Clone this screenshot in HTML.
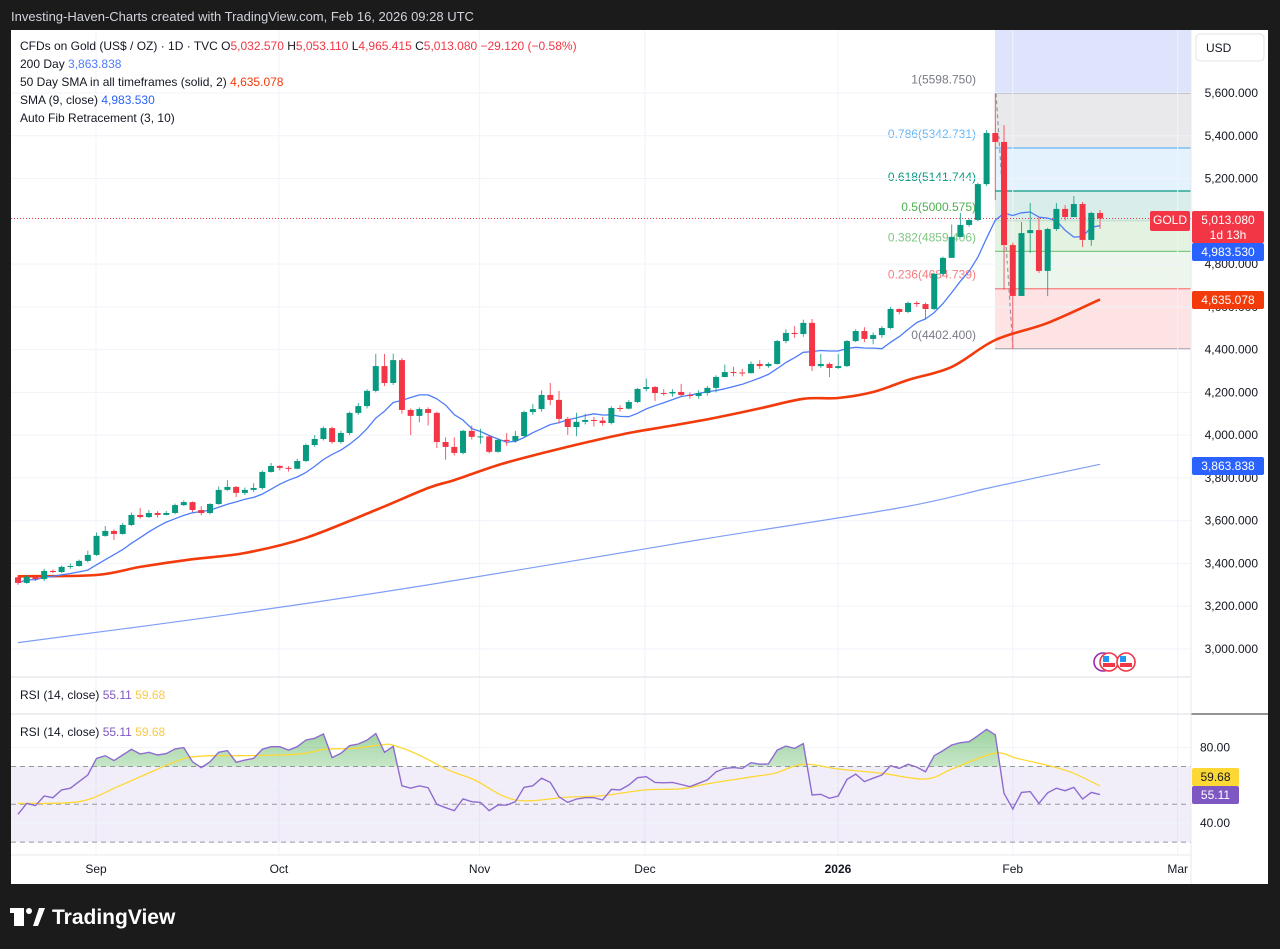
<!DOCTYPE html>
<html><head><meta charset="utf-8"><style>
html,body{margin:0;padding:0;background:#1b1b1b;width:1280px;height:949px;overflow:hidden}
svg{display:block;font-family:"Liberation Sans",sans-serif}
</style></head><body>
<svg id="chart" width="1280" height="949" viewBox="0 0 1280 949" xmlns="http://www.w3.org/2000/svg">
<defs>
<linearGradient id="rsiGrad" x1="0" y1="0" x2="0" y2="1">
<stop offset="0" stop-color="#4caf50" stop-opacity="0.55"/>
<stop offset="1" stop-color="#4caf50" stop-opacity="0"/>
</linearGradient>
<clipPath id="above70"><rect x="11" y="714" width="1180" height="52.7"/></clipPath>
<clipPath id="pricePane"><rect x="11" y="30" width="1180" height="647"/></clipPath>
</defs>
<rect x="0" y="0" width="1280" height="949" fill="#1b1b1b"/>
<text x="11" y="21" font-size="13" fill="#d1d4dc">Investing-Haven-Charts created with TradingView.com, Feb 16, 2026 09:28 UTC</text>
<rect x="11" y="30" width="1257" height="854" fill="#ffffff"/>
<g id="fib"></g>
<g id="grid"></g>
<g id="rsiBg"></g>
<g id="lines" clip-path="url(#pricePane)"></g>
<g id="candles"></g>
<g id="rsi"></g>
<g id="axes"></g>
<g id="legend" font-size="12" fill="#131722">
<text x="20" y="50"><tspan>CFDs on Gold (US$ / OZ) · 1D · TVC  O</tspan><tspan fill="#f23645">5,032.570</tspan><tspan> H</tspan><tspan fill="#f23645">5,053.110</tspan><tspan> L</tspan><tspan fill="#f23645">4,965.415</tspan><tspan> C</tspan><tspan fill="#f23645">5,013.080 −29.120 (−0.58%)</tspan></text>
<text x="20" y="68">200 Day <tspan fill="#4f7df9">3,863.838</tspan></text>
<text x="20" y="86">50 Day SMA in all timeframes (solid, 2) <tspan fill="#f23a0b">4,635.078</tspan></text>
<text x="20" y="104">SMA (9, close) <tspan fill="#2962ff">4,983.530</tspan></text>
<text x="20" y="122">Auto Fib Retracement (3, 10)</text>
<text x="20" y="699">RSI (14, close) <tspan fill="#7e57c2">55.11</tspan> <tspan fill="#f9c846">59.68</tspan></text>
<text x="20" y="736">RSI (14, close) <tspan fill="#7e57c2">55.11</tspan> <tspan fill="#f9c846">59.68</tspan></text>
</g>
<g>
<rect x="14" y="908" width="10" height="18" fill="#fff"/><rect x="10" y="908" width="14" height="5" fill="#fff"/>
<circle cx="29" cy="911" r="3" fill="#fff"/><polygon points="33,926 39,908 45,908 38,926" fill="#fff"/>
<text x="52" y="924" font-size="21" font-weight="bold" fill="#ffffff">TradingView</text>
</g>
</svg>
<script>
// ---- data ----
const closes=[3309,3338,3327,3365,3360,3384,3388,3412,3440,3529,3552,3538,3580,3627,3617,3636,3627,3636,3673,3687,3650,3636,3678,3744,3758,3730,3744,3753,3828,3856,3847,3843,3879,3954,3982,4033,3968,4010,4104,4136,4207,4323,4244,4351,4118,4090,4122,4104,3968,3945,3917,4020,3992,3994,3922,3978,3973,3996,4108,4122,4188,4165,4076,4038,4062,4071,4068,4057,4127,4124,4155,4216,4225,4197,4195,4202,4188,4183,4197,4221,4272,4295,4293,4290,4333,4323,4333,4440,4478,4473,4525,4323,4333,4314,4323,4440,4487,4450,4468,4501,4590,4576,4618,4613,4590,4754,4829,4927,4983,5006,5174,5413,5371,4889,4651,4945,4959,4768,4964,5058,5020,5081,4913,5039,5013];
const highs=[3345,3345,3342,3375,3372,3390,3400,3418,3460,3545,3575,3560,3590,3638,3660,3650,3645,3645,3680,3695,3690,3668,3682,3760,3790,3762,3755,3775,3835,3870,3860,3855,3890,3960,4000,4040,4040,4020,4110,4150,4215,4380,4380,4381,4360,4125,4130,4130,4110,3990,3990,4025,4045,4030,4000,3985,4010,4020,4115,4145,4210,4244,4207,4085,4105,4100,4085,4085,4135,4140,4165,4220,4265,4230,4215,4215,4240,4200,4210,4230,4280,4330,4320,4310,4345,4350,4340,4445,4495,4510,4540,4543,4380,4340,4380,4445,4495,4505,4480,4510,4600,4592,4625,4627,4620,4760,4835,4985,5040,5010,5180,5427,5598,5450,4900,4997,5086,5020,4970,5086,5076,5118,5090,5045,5053];
const lows=[3300,3305,3318,3318,3355,3355,3375,3385,3405,3435,3525,3510,3535,3575,3610,3612,3615,3625,3630,3668,3640,3625,3630,3675,3740,3710,3720,3735,3745,3825,3835,3830,3840,3875,3945,3975,3960,3960,4000,4095,4125,4200,4230,4235,4100,4000,4060,4045,3940,3885,3905,3910,3980,3960,3915,3918,3950,3965,3990,4095,4110,4140,4055,4001,3995,4050,4040,4045,4050,4110,4120,4150,4205,4160,4185,4180,4180,4170,4170,4185,4200,4280,4275,4275,4288,4310,4315,4330,4430,4455,4460,4300,4315,4272,4310,4318,4435,4435,4425,4455,4495,4565,4570,4600,4540,4585,4745,4830,4925,4975,5000,5165,5100,4680,4402,4650,4852,4758,4650,4955,5005,5020,4880,4885,4965];
const firstOpen=3335;
const sma50Bars=[1,10,15,21,27,34,42,48,51,56,61,66,71,76,81,86,91,95,99,103,108,113,119,125];
const sma50Vals=[3340,3346,3384,3420,3449,3520,3650,3753,3790,3860,3915,3965,4010,4045,4082,4125,4170,4174,4202,4258,4319,4445,4525,4635];
const sma200Bars=[1,25,48,79,102,113,125];
const sma200Vals=[3030,3160,3300,3510,3660,3760,3863.8];
const rsiVals=[44.7,50.5,49.3,54.4,53.5,57.6,58.5,62,65.5,74.3,75.7,73.1,76.1,79.1,76.6,77.5,76.1,76.8,79.3,80,72.5,69.4,72.5,77.5,78.4,72.2,73.4,74.3,79.1,80.5,80.5,78.7,80.5,84,84.9,87.2,74.7,77,81,81.9,83.9,87.4,77.5,80.7,59.8,58.5,59.8,58.8,50,48.2,46.6,52.8,51.4,51,46.6,49.6,49.6,51.4,59,59.8,63.8,61.6,54,51,52.8,53.5,53.5,52.3,57.9,57.6,60.2,64.1,64.6,61.6,61.4,61.6,60.5,59.3,61.1,62.9,67.2,69,69.4,69,72,71.2,71.4,78.7,80.8,79.6,82.1,54.9,55.3,53.2,54.4,63.2,66,62,63.8,65.5,70.4,69,71.2,69.7,67.2,75.7,78.4,81.4,82.6,83.1,86.3,89.7,86.7,55.8,47.5,56.3,56.7,50.5,56.1,58.5,57.2,59,52.8,56.3,55.11];
const rsiMaBars=[1,8,12.4,16.5,20.1,23,26.3,31.2,34,36.1,39.4,42.6,43.9,46.7,50.4,53.3,58,64,68,72.9,77,80.3,85.2,87.7,91,95,100,105,108.2,112.9,115.5,119.6,122,125];
const rsiMaVals=[50.5,51.4,59.3,67.6,74.3,75.7,75.7,76.1,77,79.1,79.6,81.4,81.4,76.6,68,62.9,52.3,53.8,54.6,57.6,58.2,61.1,64.6,66.4,71.2,68.7,66.4,63.4,69,77,74.3,69.9,66.4,59.68];
const priceTicks=[5600,5400,5200,5000,4800,4600,4400,4200,4000,3800,3600,3400,3200,3000];
const rsiTicks=[80,40];
const monthLabels=["Sep","Oct","Nov","Dec","2026","Feb","Mar"];
const monthBars=[9.94,30.9,53.9,72.85,94.97,115.0,133.9];
const fibRatios=["1","0.786","0.618","0.5","0.382","0.236","0"];
const fibPrices=[5598.75,5342.731,5141.744,5000.575,4859.406,4684.739,4402.4];
const fibLineColors=["#787b86","#64b5f6","#089981","#4caf50","#81c784","#f77c80","#787b86"];
const fibFills=["#e9e9eb","#e3f2fd","#d9eeeb","#e4f2e2","#edf6ec","#fde3e3"];
// ---- axes ----
const NS="http://www.w3.org/2000/svg";
const X0=18, DX=8.726;
function xb(bar){return X0+(bar-1)*DX;}
function yp(p){return 93+(5600-p)*0.21385;}
function yr(r){return 804.3-(r-50)*1.89;}
function mk(tag,attrs,parent){const e=document.createElementNS(NS,tag);for(const k in attrs)e.setAttribute(k,attrs[k]);parent.appendChild(e);return e;}
const G=id=>document.getElementById(id);
function smoothPath(pts){let d='M'+pts[0][0].toFixed(1)+','+pts[0][1].toFixed(1);
for(let i=0;i<pts.length-1;i++){const p0=pts[Math.max(0,i-1)],p1=pts[i],p2=pts[i+1],p3=pts[Math.min(pts.length-1,i+2)];
const c1=[p1[0]+(p2[0]-p0[0])/6,p1[1]+(p2[1]-p0[1])/6],c2=[p2[0]-(p3[0]-p1[0])/6,p2[1]-(p3[1]-p1[1])/6];
d+=' C'+c1[0].toFixed(1)+','+c1[1].toFixed(1)+' '+c2[0].toFixed(1)+','+c2[1].toFixed(1)+' '+p2[0].toFixed(1)+','+p2[1].toFixed(1);}
return d;}
// grid
const grid=G('grid');
monthBars.forEach(b=>{const l=mk('line',{x1:xb(b),x2:xb(b),y1:30,y2:855,stroke:'#f0f3fa','stroke-width':1},grid);

});
priceTicks.forEach(p=>{const l=mk('line',{x1:11,x2:1191,y1:yp(p),y2:yp(p),stroke:'#f0f3fa'},grid);

});
// fib
const fib=G('fib');
const fx1=995, fx2=1191;
const topR=mk('rect',{x:fx1,y:30,width:fx2-fx1,height:yp(fibPrices[0])-30,fill:'#dde4fb'},fib);


for(let i=0;i<fibFills.length;i++){const r=mk('rect',{x:fx1,y:yp(fibPrices[i]),width:fx2-fx1,height:yp(fibPrices[i+1])-yp(fibPrices[i]),fill:fibFills[i]},fib);

}
fibPrices.forEach((p,i)=>{const l=mk('line',{x1:fx1,x2:fx2,y1:yp(p),y2:yp(p),stroke:fibLineColors[i],'stroke-width':1.2},fib);


const t=mk('text',{x:976,y:yp(p)-10,'text-anchor':'end','font-size':12,fill:fibLineColors[i]},fib);
t.textContent=fibRatios[i]+'('+p.toFixed(3)+')';

});
const fl=mk('line',{x1:996,y1:yp(fibPrices[0]),x2:1013,y2:yp(fibPrices[6]),stroke:'#9598a1','stroke-dasharray':'4 3','stroke-width':1.2},fib);


// current price line
const cp=mk('line',{x1:11,x2:1191,y1:yp(closes[closes.length-1]),y2:yp(closes[closes.length-1]),stroke:'#f23645','stroke-dasharray':'1 2','stroke-width':1},grid);


// moving averages
const lines=G('lines');
function curve(bars,vals,color,w){const pts=bars.map((b,i)=>[xb(b),yp(vals[i])]);
return mk('path',{d:smoothPath(pts),fill:'none',stroke:color,'stroke-width':w,'stroke-linejoin':'round'},lines);}
const l200=curve(sma200Bars,sma200Vals,'#7f9ef7',1.2);


const l50=curve(sma50Bars,sma50Vals,'#f23a0b',2.6);


const sma9=closes.map((c,i)=>{const s=closes.slice(Math.max(0,i-8),i+1);return s.reduce((a,b)=>a+b,0)/s.length;});
const l9=mk('polyline',{points:sma9.map((v,i)=>xb(i+1).toFixed(1)+','+yp(v).toFixed(1)).join(' '),fill:'none',stroke:'#4f7df9','stroke-width':1.3,'stroke-linejoin':'round'},lines);


// candles
const cg=G('candles');
closes.forEach((c,i)=>{const o=i===0?firstOpen:closes[i-1];const up=c>=o;const col=up?'#089981':'#f23645';const x=xb(i+1);
const g=mk('g',{},cg);


mk('line',{x1:x,x2:x,y1:yp(highs[i]),y2:yp(lows[i]),stroke:col,'stroke-width':1,'stroke-opacity':0.8},g);
const yt=yp(Math.max(o,c)),yb=yp(Math.min(o,c));
mk('rect',{x:x-3,y:yt,width:6,height:Math.max(1,yb-yt),fill:col},g);});
// RSI pane
const rb=G('rsiBg');
const band=mk('rect',{x:11,y:yr(70),width:1180,height:yr(30)-yr(70),fill:'#7e57c2','fill-opacity':0.1},rb);


[80,60,40].forEach(v=>{mk('line',{x1:11,x2:1191,y1:yr(v),y2:yr(v),stroke:'#f0f3fa'},rb);});
[70,50,30].forEach(v=>{const l=mk('line',{x1:11,x2:1191,y1:yr(v),y2:yr(v),stroke:'#9598a1','stroke-dasharray':'5 4'},rb);

});
const rg=G('rsi');
const rpts=rsiVals.map((v,i)=>[xb(i+1),yr(v)]);
const area=mk('polygon',{points:[[rpts[0][0],yr(70)],...rpts,[rpts[rpts.length-1][0],yr(70)]].map(p=>p[0].toFixed(1)+','+p[1].toFixed(1)).join(' '),fill:'url(#rsiGrad)','clip-path':'url(#above70)'},rg);


const rma=mk('path',{d:smoothPath(rsiMaBars.map((b,i)=>[xb(b),yr(rsiMaVals[i])])),fill:'none',stroke:'#fdd835','stroke-width':1.3},rg);


const rl=mk('polyline',{points:rpts.map(p=>p[0].toFixed(1)+','+p[1].toFixed(1)).join(' '),fill:'none',stroke:'#8e6bd0','stroke-width':1.4},rg);


// separators and axes
const ax=G('axes');
[677,714].forEach(y=>{mk('line',{x1:11,x2:1191,y1:y,y2:y,stroke:'#e6e8ee','stroke-width':1.5},ax);});
mk('line',{x1:1191,x2:1268,y1:714,y2:714,stroke:'#555','stroke-width':1.2},ax);
mk('line',{x1:1191,x2:1191,y1:30,y2:884,stroke:'#e6e8ee'},ax);
mk('line',{x1:11,x2:1191,y1:855,y2:855,stroke:'#e6e8ee'},ax);
priceTicks.forEach(p=>{const t=mk('text',{x:1258,y:yp(p)+4,'text-anchor':'end','font-size':12,fill:'#131722'},ax);
t.textContent=p.toLocaleString('en-US')+'.000';

});
rsiTicks.forEach(v=>{const t=mk('text',{x:1200,y:yr(v)+4,'font-size':12,fill:'#131722'},ax);
t.textContent=v.toFixed(2);

});
monthLabels.forEach((m,i)=>{const t=mk('text',{x:xb(monthBars[i]),y:873,'text-anchor':'middle','font-size':12,fill:'#131722','font-weight':m==='2026'?'bold':'normal'},ax);
t.textContent=m;

});
function badge(x,y,w,h,fill,txt,col,name,sub){const g=mk('g',{},ax);


mk('rect',{x:x,y:y,width:w,height:h,fill:fill,rx:2},g);
const t=mk('text',{x:x+w/2,y:y+13,'text-anchor':'middle','font-size':12,fill:col},g);t.textContent=txt;
if(sub){const s=mk('text',{x:x+w/2,y:y+28,'text-anchor':'middle','font-size':12,fill:col},g);s.textContent=sub;}}
const usd=mk('rect',{x:1196,y:34,width:68,height:27,fill:'#fff',stroke:'#e0e3eb',rx:4},ax);


const ut=mk('text',{x:1206,y:52,'font-size':12,fill:'#131722'},ax);ut.textContent='USD';
badge(1150,211,40,20,'#f23645','GOLD','#fff','symbol-badge');
badge(1192,211,72,32,'#f23645','5,013.080','#fff','last-price-badge','1d 13h');
badge(1192,243,72,18,'#2962ff','4,983.530','#fff','sma9-badge');
badge(1192,291,72,18,'#f23a0b','4,635.078','#fff','sma50-badge');
badge(1192,457,72,18,'#2962ff','3,863.838','#fff','sma200-badge');
badge(1192,768,47,18,'#fdd835','59.68','#131722','rsi-ma-badge');
badge(1192,786,47,18,'#7e57c2','55.11','#fff','rsi-badge');
// event icons
[[1103,'#9c27b0'],[1109,'#f23645'],[1126,'#f23645']].forEach((e,i)=>{const c=mk('circle',{cx:e[0],cy:662,r:9,fill:'#fff',stroke:e[1],'stroke-width':1.6},ax);


if(i){mk('rect',{x:e[0]-6,y:663,width:12,height:4,fill:'#f23645'},ax);mk('rect',{x:e[0]-6,y:656,width:6,height:6,fill:'#2196f3'},ax);}});
</script>
</body></html>
